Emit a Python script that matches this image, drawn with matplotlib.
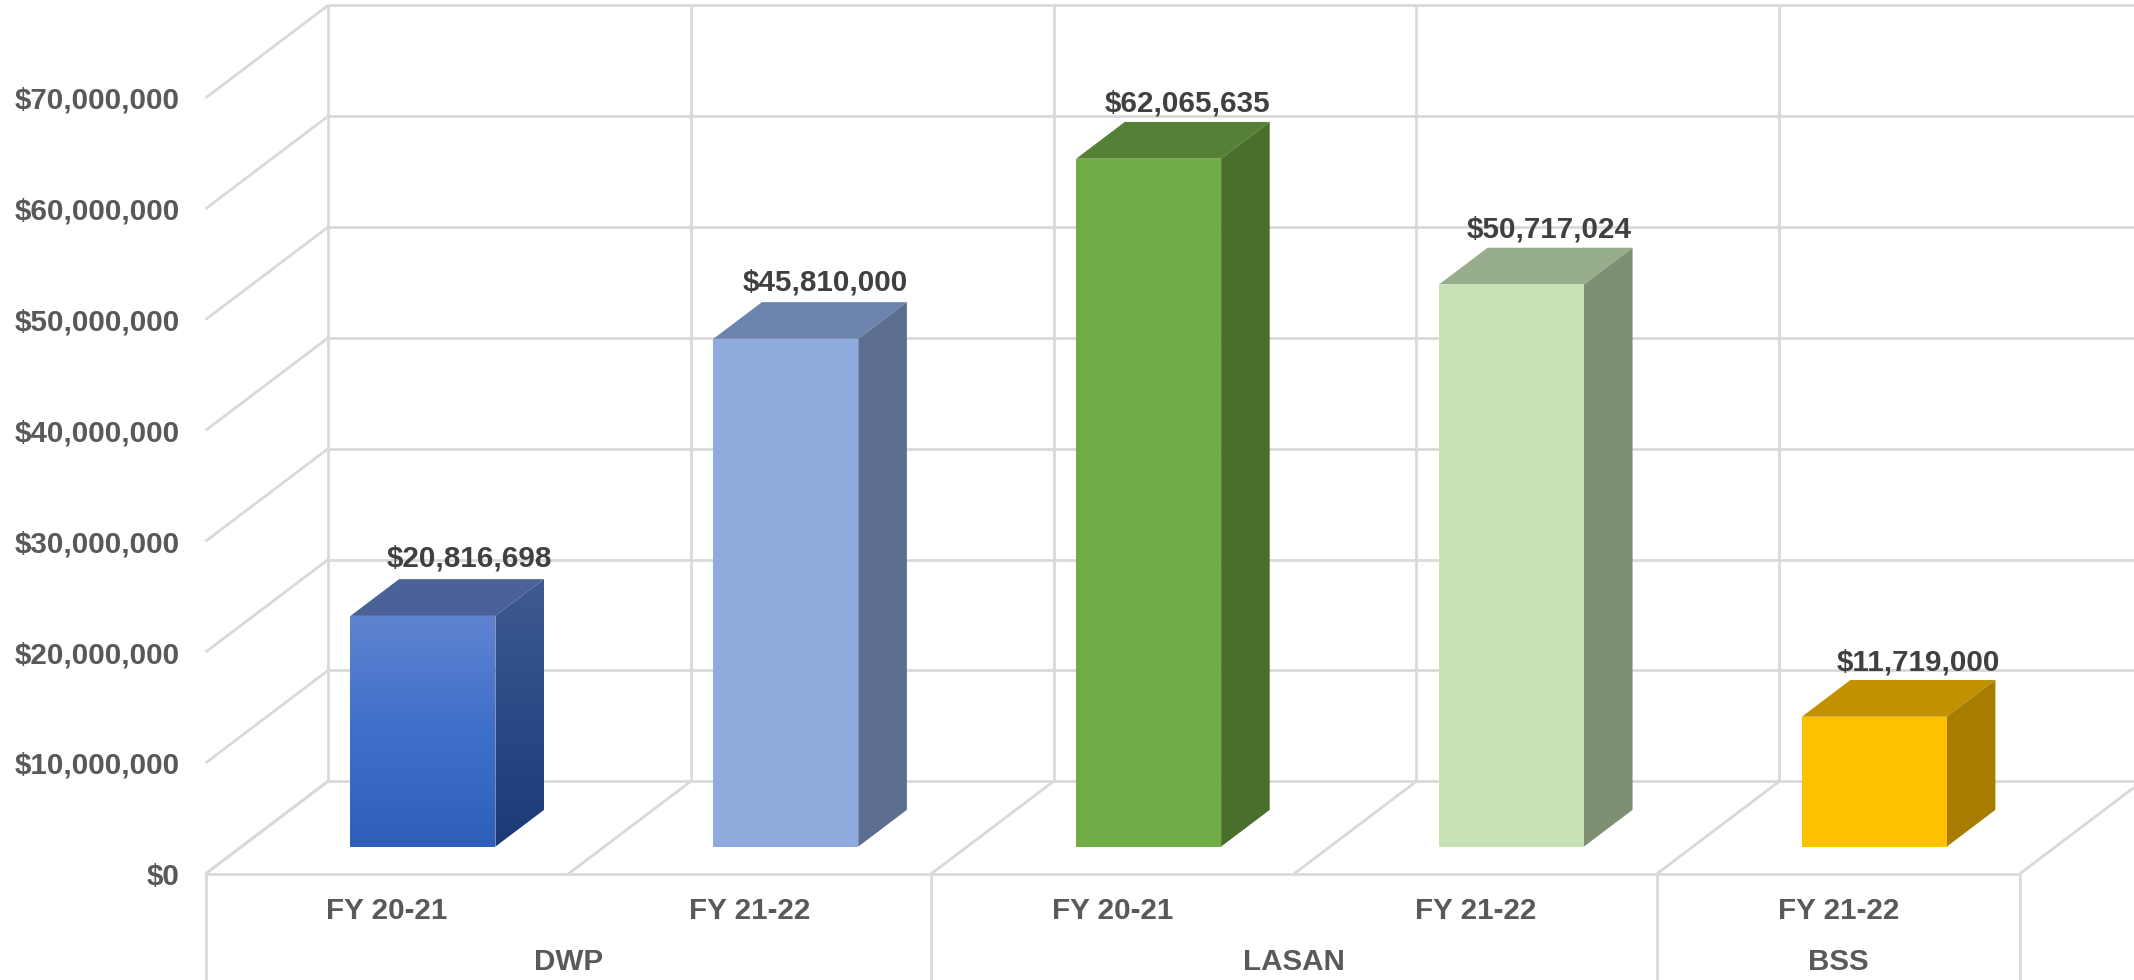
import matplotlib
matplotlib.use("Agg")
import matplotlib.pyplot as plt
import numpy as np
from matplotlib.patches import Polygon
from matplotlib.colors import LinearSegmentedColormap

# ---- data ----
departments = ["DWP", "LASAN", "BSS"]
department_spans = [(0, 2), (2, 4), (4, 5)]
years = ["FY 20-21", "FY 21-22", "FY 20-21", "FY 21-22", "FY 21-22"]
values = [20816698, 45810000, 62065635, 50717024, 11719000]
ticks = [0, 10000000, 20000000, 30000000, 40000000, 50000000, 60000000, 70000000]

# ---- style ----
front_colors = ["#4A74C8", "#8FAADC", "#70AD47", "#C8E2B6", "#FFC000"]
side_colors = ["#2F4F8C", "#5C6E90", "#48702C", "#7E8F72", "#A67D00"]
top_colors = ["#4A6298", "#6C84AE", "#568035", "#97AD8C", "#C29100"]
label_dx = [-2, -9, -10, -10.5, -4.5]  # px, from the centre of the bar's top back edge
label_dy = [21, 20, 18, 18, 17]        # px above the bar's top back edge
GRID = "#D9D9D9"
LW = 2.0
FONT = "Liberation Sans"
FS = 21.3

W, H = 2134, 980
S = 2134 / 1568
fig = plt.figure(figsize=(W / 100, H / 100), dpi=100, facecolor="white")
left, base = 151 / 1568, (720 - 642) / 720
ax = fig.add_axes([left, base, 1 - left, 642 / 720])
CAT = 266.6          # shown px per category
VAL = 81.43 / 1e7    # shown px per dollar
ax.set_xlim(0, (1568 - 151) / CAT)
ax.set_ylim(0, 642 / VAL)
for s in ax.spines.values():
    s.set_visible(False)
ax.patch.set_alpha(0)

# oblique depth: z runs 0 (front) to 1 (back wall)
DX, DY = 90 / CAT, 68 / VAL
def P(x, v, z):
    return (x + z * DX, v + z * DY)

n = len(values)
line = dict(color=GRID, lw=LW, zorder=1, solid_capstyle="butt")
xmax = ax.get_xlim()[1]
for t in ticks:
    x0, y0 = P(0, t, 0)
    x1, y1 = P(0, t, 1)
    ax.plot([x0, x1], [y0, y1], clip_on=False, **line)
    ax.plot([x1, xmax], [y1, y1], clip_on=False, **line)
for i in range(n + 1):
    a, b = P(i, 0, 0), P(i, 0, 1)
    if i == n:
        f = min(1, (xmax - a[0]) / DX)
        b = P(i, 0, f)
    ax.plot([a[0], b[0]], [a[1], b[1]], clip_on=False, **line)
    if b[0] < xmax and i < n:
        ax.plot([b[0], b[0]], [b[1], P(i, ticks[-1], 1)[1]], clip_on=False, **line)
ax.plot([0, n], [0, 0], clip_on=False, **line)

# separators below the floor
below = -(720 - 642) / VAL
for x in [0, 2, 4, 5]:
    ax.plot([x, x], [0, below], clip_on=False, **line)

# bars
W_BAR, Z0, ZD = 106.5 / CAT, 20 / 68, 27 / 68
def grad(poly, stops, box):
    cmap = LinearSegmentedColormap.from_list("g", stops)
    im = ax.imshow(np.linspace(0, 1, 256).reshape(-1, 1), cmap=cmap, aspect="auto",
                   extent=box, origin="upper", zorder=3, clip_on=True)
    p = Polygon(poly, closed=True, transform=ax.transData, fc="none", ec="none")
    ax.add_patch(p)
    im.set_clip_path(p)

xl, yl = ax.get_xlim(), ax.get_ylim()
for i, v in enumerate(values):
    a = i + 0.5 - W_BAR / 2
    b = i + 0.5 + W_BAR / 2
    front = [P(a, 0, Z0), P(b, 0, Z0), P(b, v, Z0), P(a, v, Z0)]
    side = [P(b, 0, Z0), P(b, 0, Z0 + ZD), P(b, v, Z0 + ZD), P(b, v, Z0)]
    top = [P(a, v, Z0), P(b, v, Z0), P(b, v, Z0 + ZD), P(a, v, Z0 + ZD)]
    ax.add_patch(Polygon(top, closed=True, fc=top_colors[i], ec="none", zorder=3))
    if i == 0:
        grad(front, ["#6083D0", "#3E6FCA", "#2E5FB8"],
             (front[0][0], front[1][0], front[0][1], front[2][1]))
        grad(side, ["#3F5A90", "#2A4A85", "#1C3B76"],
             (side[0][0], side[1][0], side[0][1], side[2][1]))
    else:
        ax.add_patch(Polygon(side, closed=True, fc=side_colors[i], ec="none", zorder=3))
        ax.add_patch(Polygon(front, closed=True, fc=front_colors[i], ec="none", zorder=3))
    cx, cy = P(i + 0.5, v, Z0 + ZD)
    ax.annotate(f"${v:,.0f}", (cx, cy), xytext=(label_dx[i], label_dy[i]),
                textcoords="offset pixels", ha="center", va="center",
                fontsize=FS, fontweight="bold", family=FONT, color="#404040",
                annotation_clip=False, zorder=5)
ax.set_xlim(xl)
ax.set_ylim(yl)

# axes labels
ax.set_yticks(ticks)
ax.set_yticklabels([f"${t:,.0f}" for t in ticks], fontsize=FS, fontweight="bold",
                   family=FONT, color="#595959")
ax.set_xticks([i + 0.5 for i in range(n)])
ax.set_xticklabels(years, fontsize=FS, fontweight="bold", family=FONT, color="#595959")
ax.tick_params(axis="y", length=0, pad=18.5)
ax.tick_params(axis="x", length=0, pad=17)
for name, (s, e) in zip(departments, department_spans):
    ax.annotate(name, ((s + e) / 2, 0), xytext=(0, -65 * S), textcoords="offset pixels",
                ha="center", va="center", fontsize=FS, fontweight="bold", family=FONT,
                color="#595959", annotation_clip=False)

fig.savefig("out.png", dpi=100, facecolor="white")
